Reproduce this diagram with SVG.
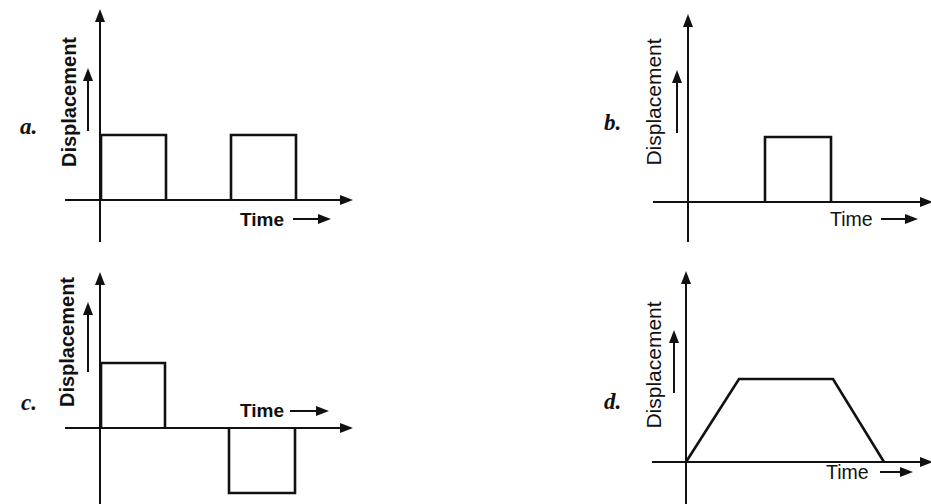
<svg xmlns="http://www.w3.org/2000/svg" width="931" height="504" viewBox="0 0 931 504">
<style>
.ax{stroke:#111;stroke-width:2;fill:none}
.sig{stroke:#111;stroke-width:2.6;fill:none;stroke-linejoin:miter}
.sm{stroke:#111;stroke-width:2;fill:none}
.hd{fill:#111}
.lab{font-family:"Liberation Serif",serif;font-style:italic;font-weight:bold;font-size:23px;fill:#111}
.yb{font-family:"Liberation Sans",Arial,sans-serif;font-weight:bold;font-size:20px;fill:#111}
.yr{font-family:"Liberation Sans",Arial,sans-serif;font-size:21px;fill:#111}
.tb{font-family:"Liberation Sans",Arial,sans-serif;font-weight:bold;font-size:19px;fill:#111}
.tr{font-family:"Liberation Sans",Arial,sans-serif;font-size:19.5px;fill:#111}
</style>
<rect width="931" height="504" fill="#fff"/>
<g id="panel-a">
  <text class="lab" x="20" y="134">a.</text>
  <line class="ax" x1="100" y1="18" x2="100" y2="242"/>
  <polygon class="hd" points="100,9 95,22 105,22"/>
  <line class="ax" x1="65" y1="200" x2="342" y2="200"/>
  <polygon class="hd" points="353,200 340,195 340,205"/>
  <polyline class="sig" points="101,200 101,135 166,135 166,200"/>
  <polyline class="sig" points="231,200 231,135 296,135 296,200"/>
  <text class="yb" transform="translate(76,102) rotate(-90)" text-anchor="middle">Displacement</text>
  <line class="sm" x1="88" y1="131" x2="88" y2="78"/>
  <polygon class="hd" points="88,68 83,81 93,81"/>
  <text class="tb" x="240" y="226">Time</text>
  <line class="sm" x1="293" y1="219" x2="320" y2="219"/>
  <polygon class="hd" points="331,219 318,214 318,224"/>
</g>
<g id="panel-b">
  <text class="lab" x="604" y="130">b.</text>
  <line class="ax" x1="688" y1="23" x2="688" y2="242"/>
  <polygon class="hd" points="688,14 683,27 693,27"/>
  <line class="ax" x1="653" y1="202" x2="922" y2="202"/>
  <polygon class="hd" points="933,202 920,197 920,207"/>
  <polyline class="sig" points="765,202 765,137 831,137 831,202"/>
  <text class="yr" transform="translate(661,102) rotate(-90)" text-anchor="middle">Displacement</text>
  <line class="sm" x1="677" y1="133" x2="677" y2="80"/>
  <polygon class="hd" points="677,70 672,83 682,83"/>
  <text class="tr" x="830" y="226">Time</text>
  <line class="sm" x1="881" y1="219" x2="907" y2="219"/>
  <polygon class="hd" points="918,219 905,214 905,224"/>
</g>
<g id="panel-c">
  <text class="lab" x="21" y="410">c.</text>
  <line class="ax" x1="100" y1="281" x2="100" y2="504"/>
  <polygon class="hd" points="100,272 95,285 105,285"/>
  <line class="ax" x1="65" y1="428" x2="342" y2="428"/>
  <polygon class="hd" points="353,428 340,423 340,433"/>
  <polyline class="sig" points="101,428 101,363 165,363 165,428"/>
  <polyline class="sig" points="229,428 229,493 295,493 295,428"/>
  <text class="yb" transform="translate(74,342) rotate(-90)" text-anchor="middle">Displacement</text>
  <line class="sm" x1="88" y1="372" x2="88" y2="312"/>
  <polygon class="hd" points="88,302 83,315 93,315"/>
  <text class="tb" x="240" y="417">Time</text>
  <line class="sm" x1="290" y1="411" x2="318" y2="411"/>
  <polygon class="hd" points="329,411 316,406 316,416"/>
</g>
<g id="panel-d">
  <text class="lab" x="604" y="409">d.</text>
  <line class="ax" x1="686" y1="280" x2="686" y2="504"/>
  <polygon class="hd" points="686,271 681,284 691,284"/>
  <line class="ax" x1="652" y1="462" x2="922" y2="462"/>
  <polygon class="hd" points="933,462 920,457 920,467"/>
  <polyline class="sig" points="686,462 739,379 833,379 884,462"/>
  <text class="yr" transform="translate(661,365) rotate(-90)" text-anchor="middle">Displacement</text>
  <line class="sm" x1="674" y1="393" x2="674" y2="340"/>
  <polygon class="hd" points="674,330 669,343 679,343"/>
  <text class="tr" x="826" y="479">Time</text>
  <line class="sm" x1="880" y1="472" x2="902" y2="472"/>
  <polygon class="hd" points="913,472 900,467 900,477"/>
</g>
</svg>
